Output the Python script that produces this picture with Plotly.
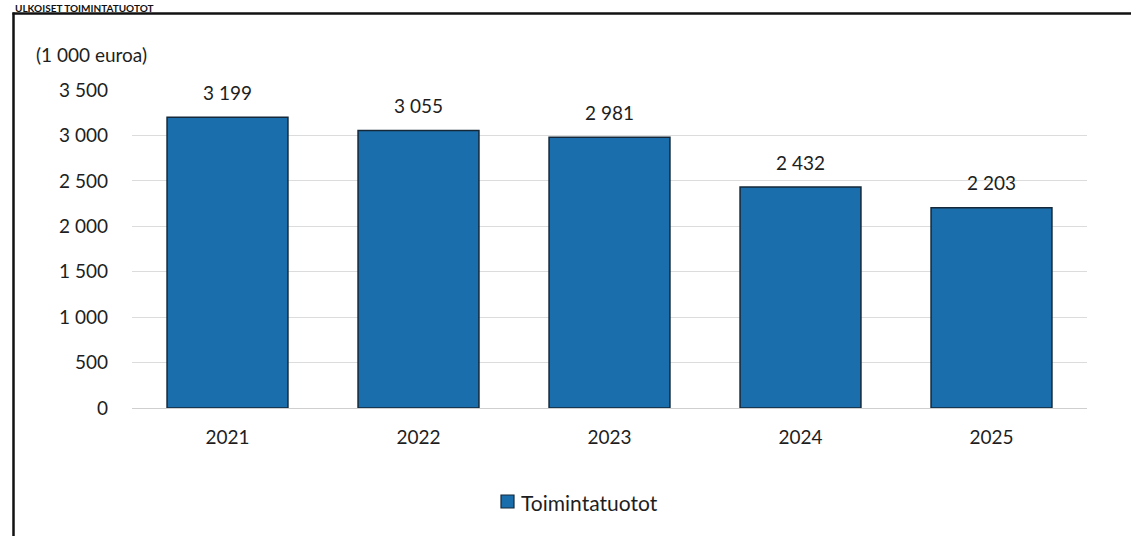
import plotly.graph_objects as go

years = ["2021", "2022", "2023", "2024", "2025"]
values = [3199, 3055, 2981, 2432, 2203]
series_name = "Toimintatuotot"
unit_label = "(1 000 euroa)"
title_text = "ULKOISET TOIMINTATUOTOT"

W, H = 1131, 536
L, R, T, B = 132, 44, 90, 128
pw, ph = W - L - R, H - T - B

def px_x(x):
    return (x - L) / pw

def px_y(y):
    return (H - B - y) / ph

FONT = "Lato, 'Open Sans', sans-serif"
TXT = "#1e1e1e"
BAR = "#1a6eab"
EDGE = "#15283a"

def fmt(v):
    return f"{v:,}".replace(",", " ")

fig = go.Figure()
fig.add_trace(go.Bar(
    x=years, y=values, name=series_name, showlegend=False,
    marker=dict(color=BAR, line=dict(color=EDGE, width=1.5)),
))

# value labels: category index on the category axis
annotations = [
    dict(x=i, y=v, xref="x", yref="y", text=fmt(v), showarrow=False,
         yanchor="middle", yshift=25, font=dict(size=19, color=TXT))
    for i, v in enumerate(values)
]
annotations += [
    dict(text=unit_label, xref="paper", yref="paper", x=px_x(34), y=px_y(55),
         xanchor="left", yanchor="middle", showarrow=False, font=dict(size=19, color=TXT)),
    dict(text="<b>" + title_text + "</b>", xref="paper", yref="paper", x=px_x(13), y=px_y(0),
         xanchor="left", yanchor="top", showarrow=False, font=dict(size=10, color="#111111")),
    dict(text=series_name, xref="paper", yref="paper", x=px_x(519), y=px_y(502),
         xanchor="left", yanchor="middle", showarrow=False, font=dict(size=21, color=TXT)),
]

fig.update_layout(
    width=W, height=H,
    margin=dict(l=L, r=R, t=T, b=B, autoexpand=False),
    paper_bgcolor="white", plot_bgcolor="white",
    separators=", ",
    bargap=0.367,
    font=dict(family=FONT, size=19, color=TXT),
    showlegend=False,
    xaxis=dict(type="category", range=[-0.5, len(years) - 0.5], showgrid=False,
               showline=False, ticks="", tickfont=dict(size=19), ticklabelstandoff=16),
    yaxis=dict(range=[0, 3500], dtick=500, tickformat=",d", showgrid=True,
               gridcolor="#dcdcdc", gridwidth=1, zeroline=True, zerolinecolor="#cfcfcf",
               zerolinewidth=1, ticks="", ticklabelstandoff=23, tickfont=dict(size=19)),
    annotations=annotations,
    shapes=[
        dict(type="line", xref="paper", yref="paper", x0=px_x(13.5), x1=px_x(13.5),
             y0=px_y(12.5), y1=px_y(560), line=dict(color="#111111", width=2.5)),
        dict(type="line", xref="paper", yref="paper", x0=px_x(12.5), x1=px_x(1140),
             y0=px_y(13.5), y1=px_y(13.5), line=dict(color="#111111", width=2.5)),
        dict(type="rect", xref="paper", yref="paper", x0=px_x(501), x1=px_x(514),
             y0=px_y(508), y1=px_y(495), fillcolor=BAR, line=dict(color=EDGE, width=1.2)),
    ],
)

fig.write_html("out.html", config={"displayModeBar": False},
               post_script="document.body.style.margin='0';")
